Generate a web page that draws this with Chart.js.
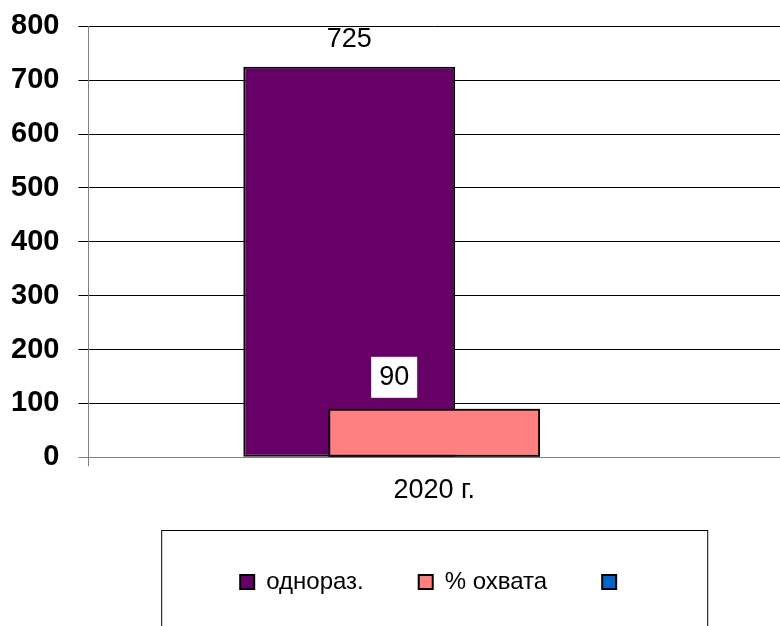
<!DOCTYPE html>
<html lang="ru">
<head>
<meta charset="UTF-8">
<title>2020 г.</title>
<script src="https://cdn.jsdelivr.net/npm/chart.js"></script>
<style>
  body { margin: 0; background: #fff; overflow: hidden; }
  #chartContainer { width: 780px; height: 626px; position: relative; }
</style>
</head>
<body>
<div id="chartContainer">
  <canvas id="barChart"></canvas>
</div>
<script>
// chart data
const categories = ['2020 г.'];
const seriesNames = ['однораз.', '% охвата', ''];
const odnoraz = [725];
const ohvata = [90];
const third = [null];
const yTicks = [0, 100, 200, 300, 400, 500, 600, 700, 800];

const FONT = "'Liberation Sans', Arial, sans-serif";

// salmon bar sits in front of the purple one, so draw it again on top
const frontBars = {
    id: 'frontBars',
    afterDatasetsDraw(chart) {
        const meta = chart.getDatasetMeta(1);
        if (meta && !meta.hidden) meta.controller.draw();
    }
};

// value labels above bars
const valueLabels = {
    id: 'valueLabels',
    afterDatasetsDraw(chart) {
        const ctx = chart.ctx;
        const shift = [{dx: 0, dy: -28, box: false}, {dx: -40, dy: -32, box: true}];
        ctx.save();
        ctx.font = '27px ' + FONT;
        ctx.textAlign = 'center';
        ctx.textBaseline = 'middle';
        chart.data.datasets.forEach((ds, i) => {
            const meta = chart.getDatasetMeta(i);
            meta.data.forEach((bar, j) => {
                const v = ds.data[j];
                if (v === null || v === undefined) return;
                const s = shift[i] || shift[0];
                const x = bar.x + s.dx;
                const y = bar.y + s.dy;
                const txt = String(v);
                if (s.box) {
                    const w = ctx.measureText(txt).width + 16;
                    ctx.fillStyle = '#ffffff';
                    ctx.fillRect(x - w / 2, y - 20, w, 41);
                }
                ctx.fillStyle = '#000000';
                ctx.fillText(txt, x, y + 1);
            });
        });
        ctx.restore();
    }
};

// frame round the legend
const legendFrame = {
    id: 'legendFrame',
    afterDraw(chart) {
        const lg = chart.legend;
        if (!lg || !lg.legendHitBoxes.length) return;
        const ctx = chart.ctx;
        const cx = (lg.left + lg.right) / 2;
        const top = lg.legendHitBoxes[0].top - 40;
        ctx.save();
        ctx.strokeStyle = '#000';
        ctx.lineWidth = 1;
        ctx.strokeRect(cx - 273 + 0.5, top + 0.5, 546, chart.height - top + 20);
        ctx.restore();
    }
};

const ctx = document.getElementById('barChart').getContext('2d');
new Chart(ctx, {
    type: 'bar',
    data: {
        labels: categories,
        datasets: [{
            label: seriesNames[0],
            data: odnoraz,
            backgroundColor: '#660066',
            borderColor: '#000000',
            borderWidth: 2,
            borderSkipped: false
        }, {
            label: seriesNames[1],
            data: ohvata,
            backgroundColor: '#FF8080',
            borderColor: '#000000',
            borderWidth: 2,
            borderSkipped: false
        }, {
            label: seriesNames[2],
            data: third,
            backgroundColor: '#0066CC',
            borderColor: '#000000',
            borderWidth: 2,
            borderSkipped: false
        }]
    },
    options: {
        responsive: true,
        maintainAspectRatio: false,
        animation: false,
        categoryPercentage: 0.3685,
        barPercentage: 2.494,
        layout: {
            padding: { top: 26, right: 0, bottom: 22, left: -8 }
        },
        scales: {
            x: {
                grid: {
                    display: true,
                    drawOnChartArea: false,
                    drawTicks: true,
                    tickLength: 9,
                    color: '#808080'
                },
                border: { display: true, color: '#808080', width: 1 },
                ticks: {
                    color: '#000',
                    padding: 23,
                    font: { family: FONT, size: 27, lineHeight: 0.1 }
                }
            },
            y: {
                min: 0,
                max: 800,
                afterBuildTicks: axis => { axis.ticks = yTicks.map(v => ({value: v})); },
                grid: {
                    color: c => (c.tick && c.tick.value === 0 ? '#808080' : '#000000'),
                    lineWidth: 1,
                    tickLength: 10
                },
                border: { display: true, color: '#808080', width: 1 },
                ticks: {
                    color: '#000',
                    padding: 19,
                    font: { family: FONT, size: 29, weight: 'bold', lineHeight: 0.5 }
                }
            }
        },
        plugins: {
            legend: {
                display: true,
                position: 'bottom',
                fullSize: false,
                labels: {
                    color: '#000',
                    boxWidth: 14,
                    boxHeight: 14,
                    padding: 55,
                    font: { family: FONT, size: 24 }
                }
            },
            tooltip: { enabled: false }
        }
    },
    plugins: [frontBars, valueLabels, legendFrame]
});
</script>
</body>
</html>
